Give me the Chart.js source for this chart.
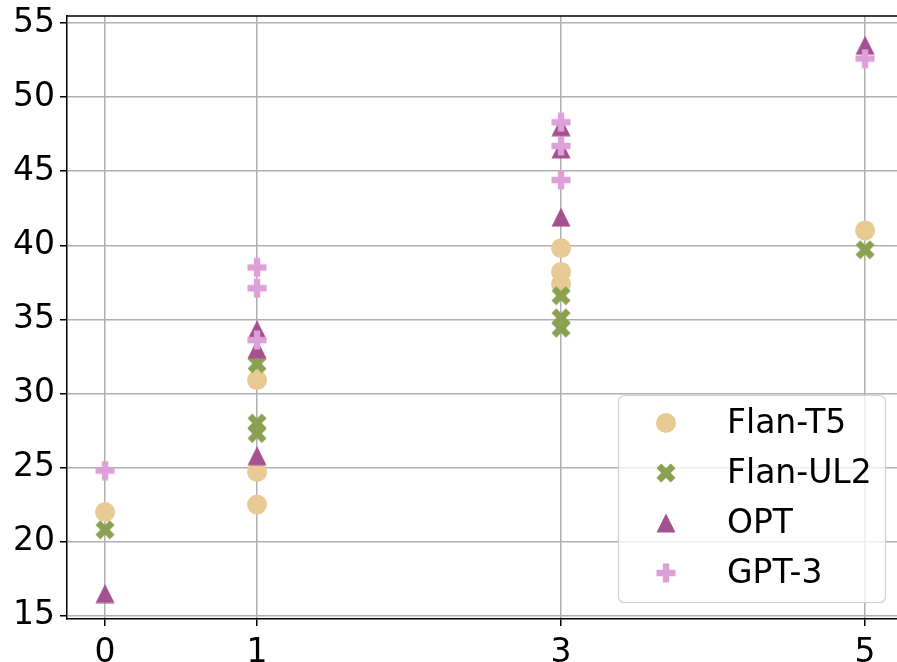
<!DOCTYPE html>
<html>
<head>
<meta charset="utf-8">
<script src="https://cdn.jsdelivr.net/npm/chart.js@4.4.0/dist/chart.umd.min.js"></script>
<style>
  html, body { margin: 0; padding: 0; background: #ffffff; }
</style>
</head>
<body>
<canvas id="graph_1" width="897" height="662"></canvas>
<script>
// Datos
const x_ticks = [0, 1, 3, 5];
const y_ticks = [15, 20, 25, 30, 35, 40, 45, 50, 55];
const series_names = ['Flan-T5', 'Flan-UL2', 'OPT', 'GPT-3'];
const shots = [0, 1, 1, 1, 3, 3, 3, 5]; // eje X de cada punto
const flan_t5_values = [22.0, 30.9, 24.7, 22.5, 39.8, 38.2, 37.4, 41.0];
const flan_ul2_values = [20.8, 32.0, 28.0, 27.3, 36.6, 35.1, 34.4, 39.7];
const opt_values = [16.5, 34.3, 33.0, 25.8, 48.0, 46.5, 41.9, 53.5];
const gpt3_values = [24.8, 38.5, 37.1, 33.6, 48.3, 46.7, 44.4, 52.6];
const series_colors = ['#E8CB94', '#8BA152', '#A5508F', '#DEA0D9'];

const marker_size = 20;
const font_family = "'DejaVu Sans', sans-serif";

// filled marker shapes like matplotlib '^', 'X' and 'P'
function make_marker(shape, color, size) {
  const canvas = document.createElement('canvas');
  canvas.width = size;
  canvas.height = size;
  const ctx = canvas.getContext('2d');
  const half = size / 2;
  let points;
  if (shape === 'triangle') {
    points = [[0, -1], [-1, 1], [1, 1]];
  } else if (shape === 'x') {
    points = [[-1, -2], [0, -1], [1, -2], [2, -1], [1, 0], [2, 1], [1, 2], [0, 1], [-1, 2], [-2, 1], [-1, 0], [-2, -1]]
      .map(p => [p[0] / 2, p[1] / 2]);
  } else {
    points = [[-1, -3], [1, -3], [1, -1], [3, -1], [3, 1], [1, 1], [1, 3], [-1, 3], [-1, 1], [-3, 1], [-3, -1], [-1, -1]]
      .map(p => [p[0] / 3, p[1] / 3]);
  }
  ctx.fillStyle = color;
  ctx.beginPath();
  points.forEach((p, i) => {
    const px = half + p[0] * (half - 0.5);
    const py = half + p[1] * (half - 0.5);
    if (i === 0) ctx.moveTo(px, py); else ctx.lineTo(px, py);
  });
  ctx.closePath();
  ctx.fill();
  return canvas;
}

const point_styles = [
  'circle',
  make_marker('x', series_colors[1], marker_size),
  make_marker('triangle', series_colors[2], marker_size),
  make_marker('plus', series_colors[3], marker_size)
];

function to_points(values) {
  return values.map((v, i) => ({ x: shots[i], y: v }));
}

const all_values = [flan_t5_values, flan_ul2_values, opt_values, gpt3_values];

const datasets = series_names.map((name, i) => ({
  label: name,
  data: to_points(all_values[i]),
  pointStyle: point_styles[i],
  pointRadius: marker_size / 2,
  pointHoverRadius: marker_size / 2,
  pointBackgroundColor: series_colors[i],
  pointBorderWidth: 0,
  borderColor: series_colors[i],
  showLine: false,
  order: series_names.length - i // el ultimo encima
}));

// leyenda dentro del area, abajo a la derecha
const inner_legend = {
  id: 'inner_legend',
  afterDraw(chart) {
    const ctx = chart.ctx;
    const area = chart.chartArea;
    ctx.save();
    // borde superior del marco
    ctx.strokeStyle = '#000000';
    ctx.lineWidth = 1.5;
    ctx.beginPath();
    ctx.moveTo(area.left - 0.75, area.top);
    ctx.lineTo(area.right, area.top);
    ctx.stroke();

    const box_x = 618.5, box_y = 395.5, box_w = 267, box_h = 207;
    ctx.beginPath();
    ctx.roundRect(box_x, box_y, box_w, box_h, 6);
    ctx.fillStyle = 'rgba(255,255,255,0.8)';
    ctx.fill();
    ctx.strokeStyle = '#d0d0d0';
    ctx.lineWidth = 1.2;
    ctx.stroke();

    ctx.font = '33px ' + font_family;
    ctx.fillStyle = '#000000';
    ctx.textBaseline = 'middle';
    ctx.textAlign = 'left';
    series_names.forEach((name, i) => {
      const row_y = 423 + i * 50;
      if (i === 0) {
        ctx.beginPath();
        ctx.arc(666, row_y, marker_size / 2, 0, Math.PI * 2);
        ctx.fillStyle = series_colors[0];
        ctx.fill();
      } else {
        ctx.drawImage(point_styles[i], 666 - marker_size / 2, row_y - marker_size / 2);
      }
      ctx.fillStyle = '#000000';
      ctx.fillText(name, 727, row_y + 1);
    });
    ctx.restore();
  }
};

const context = document.getElementById('graph_1').getContext('2d');
const graph_section = new Chart(context, {
  type: 'scatter',
  data: { datasets: datasets },
  plugins: [inner_legend],
  options: {
    responsive: false,
    animation: false,
    devicePixelRatio: 1,
    layout: { autoPadding: false, padding: { top: 16, right: 0, left: 0, bottom: 0 } },
    plugins: { legend: { display: false }, tooltip: { enabled: false } },
    scales: {
      x: {
        type: 'linear',
        min: -0.25,
        max: 5.21,
        afterBuildTicks: scale => { scale.ticks = x_ticks.map(v => ({ value: v })); },
        afterFit: scale => {
          scale.height = 43;
          scale.paddingLeft = 0; // sin margen extra por las etiquetas
          scale.paddingRight = 0;
        },
        grid: { color: '#b0b0b0', lineWidth: 1.5, tickColor: '#000000', tickLength: 7, tickWidth: 1.5 },
        border: { color: '#000000', width: 1.5 },
        ticks: { color: '#000000', font: { family: font_family, size: 33 }, padding: 8, maxRotation: 0 }
      },
      y: {
        type: 'linear',
        min: 14.78,
        max: 55.47,
        afterBuildTicks: scale => { scale.ticks = y_ticks.map(v => ({ value: v })); },
        afterFit: scale => {
          scale.width = 67;
          scale.paddingTop = 0;
          scale.paddingBottom = 0;
        },
        grid: { color: '#b0b0b0', lineWidth: 1.5, tickColor: '#000000', tickLength: 7, tickWidth: 1.5 },
        border: { color: '#000000', width: 1.5 },
        ticks: { color: '#000000', font: { family: font_family, size: 33 }, padding: 5 }
      }
    }
  }
});
</script>
</body>
</html>
